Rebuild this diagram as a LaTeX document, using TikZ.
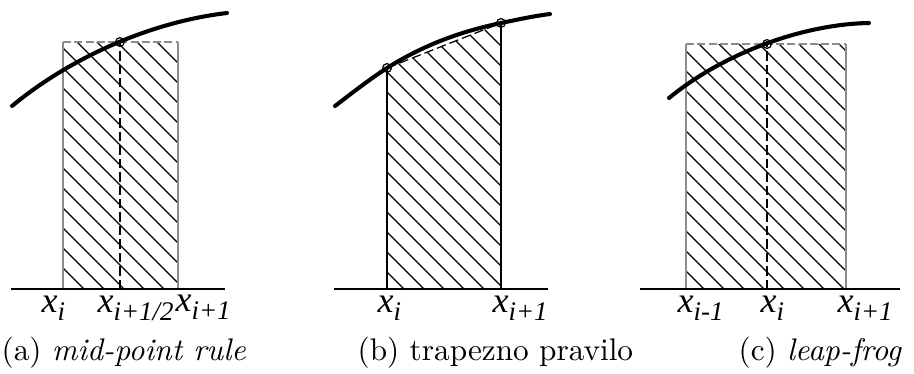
\documentclass[tikz,border=0pt]{standalone}
\usepackage{fontspec}
\newfontfamily\labfont[ItalicFont={Liberation Serif Italic}]{Liberation Serif}
\usetikzlibrary{positioning}
% x with an italic subscript, as on the axes
\newcommand{\xlab}[1]{{\labfont\itshape\fontsize{11.5}{13}\selectfont x\raisebox{-2.7pt}{\fontsize{8.6}{10}\selectfont #1}}}

\begin{document}
\begin{tikzpicture}[x=0.32pt, y=-0.32pt,
  axis/.style={line width=0.65pt},
  fcurve/.style={line width=1.3pt, line cap=round},
  hatch/.style={line width=0.35pt},
  side/.style={draw=black!45, line width=0.35pt},
  topedge/.style={draw=black!45, line width=0.35pt, dash pattern=on 2.6pt off 1pt},
  mid/.style={line width=0.4pt, dash pattern=on 3pt off 1.3pt},
  pt/.style={line width=0.4pt},
  lab/.style={anchor=base west, inner sep=0pt},
  caption/.style={anchor=base west, inner sep=0pt, font=\fontsize{10}{12}\selectfont}]
  \useasboundingbox (0,0) rectangle (914,373);
  % (a) mid-point rule
  \begin{scope}
    \clip (63,42) rectangle (178,289);
    \foreach \c in {-245,-225,...,905} \draw[hatch] (\c,0) -- (\c+320,320);
  \end{scope}
  \draw[side] (63,289) -- (63,42); \draw[side] (178,42) -- (178,289);
  \draw[topedge] (63,42) -- (178,42);
  \draw[axis] (11,289) -- (225,289);
  \draw[mid] (120,289) -- (120,42);
  \draw[fcurve] (12,106) .. controls (70,58) and (150,22) .. (227,13);
  \draw[pt] (120,42) circle[radius=1.4pt];
  \node[lab] (ai) at (41,312) {\xlab{i}};
  \node[lab] (ahalf) at (97,312) {\xlab{i+1/2}};
  \node[lab] (anext) at (175,311) {\xlab{i+1}};
  \node[caption] (capa) at (1,360) {(a) \textit{mid-point rule}};
  % (b) trapezno pravilo
  \begin{scope}
    \clip (387,289) -- (387,68) -- (501,23) -- (501,289) -- cycle;
    \foreach \c in {-245,-225,...,905} \draw[hatch] (\c,0) -- (\c+320,320);
  \end{scope}
  \draw[pt] (387,289) -- (387,68); \draw[pt] (501,23) -- (501,289);
  \draw[mid] (387,68) -- (501,23);
  \draw[axis] (334,289) -- (548,289);
  \draw[fcurve] (335,106) .. controls (352,93) and (370,79) .. (387,68)
    .. controls (425,44) and (463,31) .. (501,23) .. controls (518,19.5) and (534,16) .. (550,14);
  \draw[pt] (387,68) circle[radius=1.4pt]; \draw[pt] (501,23) circle[radius=1.4pt];
  \node[lab] (bi) at (377,312) {\xlab{i}};
  \node[lab] (bnext) at (492,312) {\xlab{i+1}};
  \node[caption] (capb) at (357,360) {(b) trapezno pravilo};
  % (c) leap-frog
  \begin{scope}
    \clip (686,44) rectangle (846,289);
    \foreach \c in {-245,-225,...,905} \draw[hatch] (\c,0) -- (\c+320,320);
  \end{scope}
  \draw[side] (686,289) -- (686,44); \draw[side] (846,44) -- (846,289);
  \draw[topedge] (686,44) -- (846,44);
  \draw[axis] (640,289) -- (900,289);
  \draw[mid] (767,289) -- (767,44);
  \draw[fcurve] (669,98) .. controls (725,52) and (805,24) .. (869,23);
  \draw[pt] (767,44) circle[radius=1.4pt];
  \node[lab] (cprev) at (677,312) {\xlab{i-1}};
  \node[lab] (ci) at (760,312) {\xlab{i}};
  \node[lab] (cnext) at (837,312) {\xlab{i+1}};
  \node[caption] (capc) at (738,360) {(c) \textit{leap-frog}};
\end{tikzpicture}
\end{document}
